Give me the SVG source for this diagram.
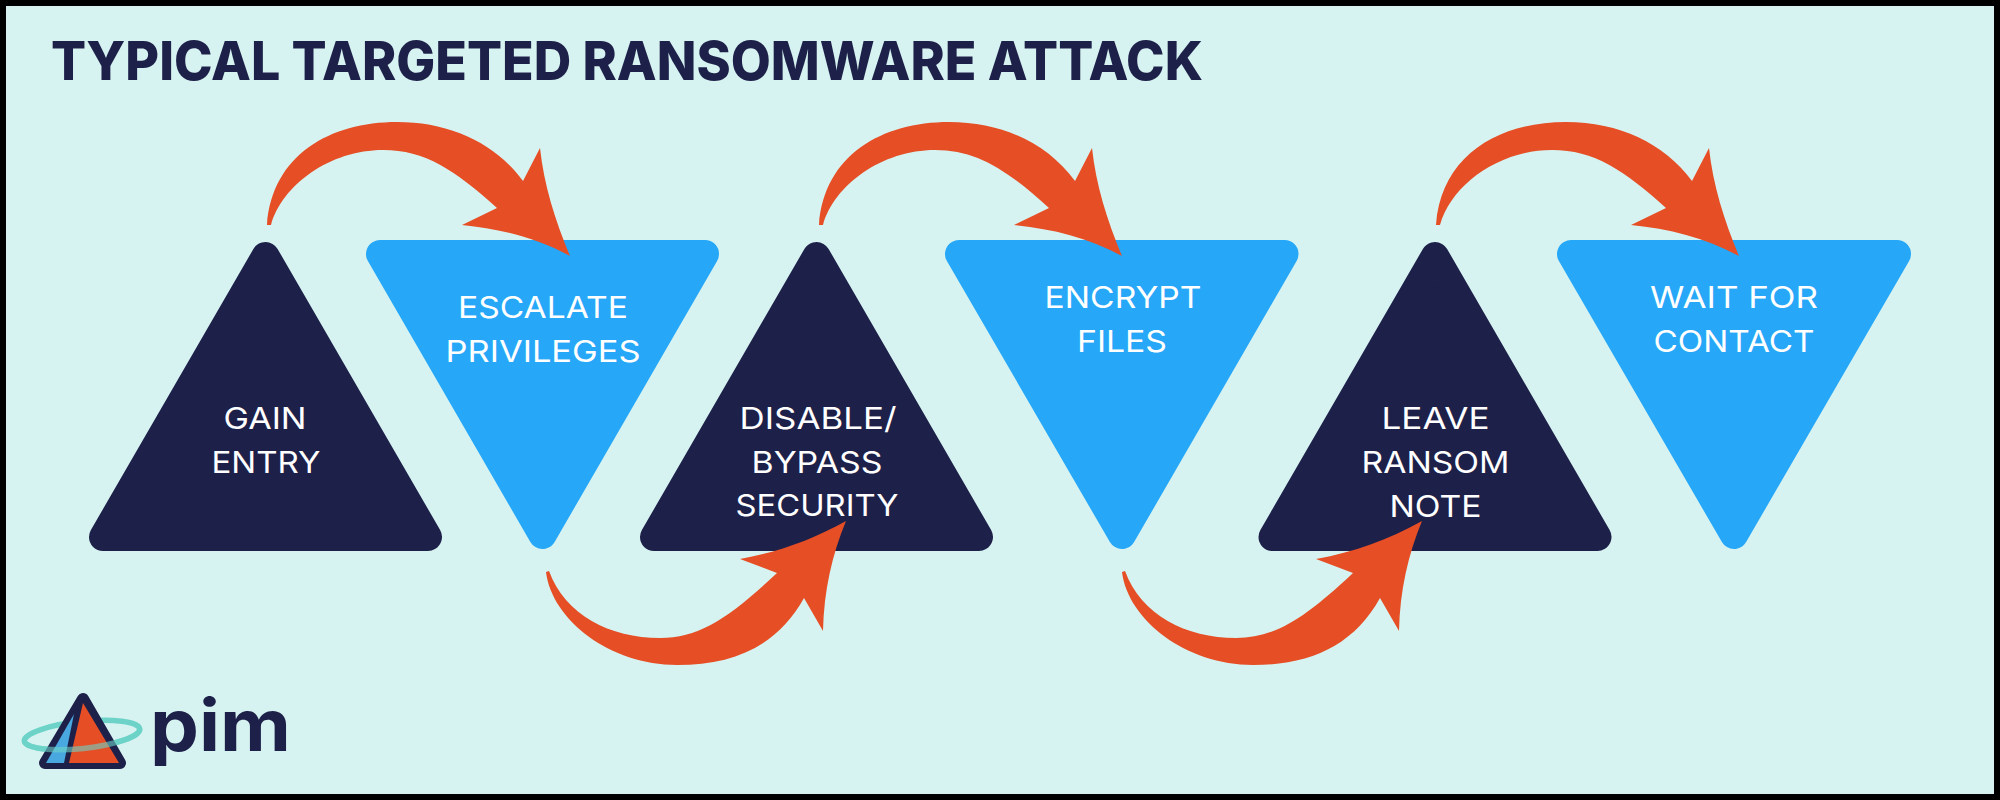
<svg xmlns="http://www.w3.org/2000/svg" width="2000" height="800" viewBox="0 0 2000 800">
<defs>
<style>
.lb{font-family:"Inter","Liberation Sans",sans-serif;font-size:30px;fill:#fff;text-anchor:middle}
.dark{fill:#1d2049;stroke:#1d2049;stroke-width:28;stroke-linejoin:round}
.blue{fill:#26a7f8;stroke:#26a7f8;stroke-width:28;stroke-linejoin:round}
.ar{fill:#e64e25}
</style>
<path id="a1" d="M267 225C272 155 330 122 397 122C450 122 495 143 523 181L540 148C544 185 555 220 570 256C535 237 500 229 462 225L497 208C455 170 425 150 383 150C330 150 282 185 271 225Z"/>
<path id="a2" d="M546 572C552 620 610 665 677 665C735 665 778 645 804 598L823 631C824 590 832 555 846 521C812 540 778 552 740 559L777 573C730 617 700 638 660 638C610 638 565 615 549 571Z"/>
</defs>
<rect width="2000" height="800" fill="#000"/>
<rect x="6" y="6" width="1988" height="788" fill="#d7f3f1"/>
<text x="51" y="80" font-family="Inter,'Liberation Sans',sans-serif" font-weight="800" font-size="54" fill="#1d2049" textLength="1152" lengthAdjust="spacingAndGlyphs">TYPICAL TARGETED RANSOMWARE ATTACK</text>
<g id="node1"><path class="dark" d="M265.500 256L428 537H103Z"/><text class="lb" x="265" y="429" textLength="83" lengthAdjust="spacingAndGlyphs">GAIN</text><text class="lb" x="266" y="473" textLength="109" lengthAdjust="spacingAndGlyphs">ENTRY</text></g>
<g id="node2"><path class="blue" d="M380 254H705L542.500 535Z"/><text class="lb" x="543" y="318" textLength="170" lengthAdjust="spacingAndGlyphs">ESCALATE</text><text class="lb" x="543" y="362" textLength="195" lengthAdjust="spacingAndGlyphs">PRIVILEGES</text></g>
<g id="node3"><path class="dark" d="M816.500 256L979 537H654Z"/><text class="lb" x="818" y="429" textLength="157" lengthAdjust="spacingAndGlyphs">DISABLE/</text><text class="lb" x="817" y="473" textLength="131" lengthAdjust="spacingAndGlyphs">BYPASS</text><text class="lb" x="817" y="516" textLength="163" lengthAdjust="spacingAndGlyphs">SECURITY</text></g>
<g id="node4"><path class="blue" d="M959 254H1284.500L1122 535Z"/><text class="lb" x="1123" y="308" textLength="157" lengthAdjust="spacingAndGlyphs">ENCRYPT</text><text class="lb" x="1122" y="352" textLength="90" lengthAdjust="spacingAndGlyphs">FILES</text></g>
<g id="node5"><path class="dark" d="M1435 256L1597.500 537H1272.500Z"/><text class="lb" x="1435.500" y="429" textLength="108" lengthAdjust="spacingAndGlyphs">LEAVE</text><text class="lb" x="1435.500" y="473" textLength="148" lengthAdjust="spacingAndGlyphs">RANSOM</text><text class="lb" x="1435.500" y="517" textLength="92" lengthAdjust="spacingAndGlyphs">NOTE</text></g>
<g id="node6"><path class="blue" d="M1571 254H1897L1734 535Z"/><text class="lb" x="1734" y="308" textLength="168" lengthAdjust="spacingAndGlyphs">WAIT FOR</text><text class="lb" x="1734" y="352" textLength="161" lengthAdjust="spacingAndGlyphs">CONTACT</text></g>
<g id="connectors" class="ar">
<use href="#a1"/><use href="#a2"/>
<use href="#a1" x="552"/><use href="#a2" x="576"/><use href="#a1" x="1169"/>
</g>
<g id="logo">
<ellipse cx="82" cy="735" rx="58" ry="13.500" transform="rotate(-6 82 735)" fill="none" stroke="#6dd3c8" stroke-width="5.500"/>
<path d="M83 699L120 763H45Z" fill="#1d2049" stroke="#1d2049" stroke-width="12" stroke-linejoin="round"/>
<path d="M83 703L119 763H69Z" fill="#e64e25"/>
<path d="M74 714L64 763H46Z" fill="#4aa8e0"/>
<path d="M24 735A58 13.500 0 0 0 140 735" transform="rotate(-6 82 735)" fill="none" stroke="#6dd3c8" stroke-opacity=".6" stroke-width="5.500"/>
<text x="150" y="751" font-family="Inter,'Liberation Sans',sans-serif" font-weight="700" font-size="72" fill="#1d2049" textLength="141" lengthAdjust="spacingAndGlyphs">pim</text>
</g>
</svg>
